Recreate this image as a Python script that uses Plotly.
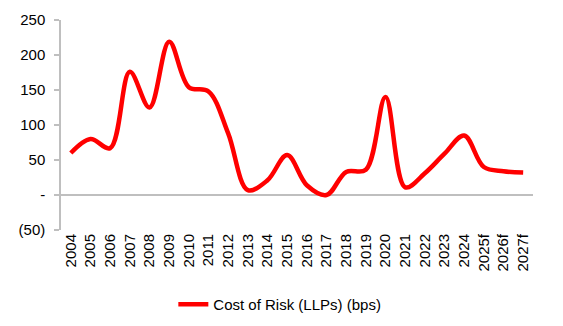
import plotly.graph_objects as go

years = ["2004", "2005", "2006", "2007", "2008", "2009", "2010", "2011", "2012",
         "2013", "2014", "2015", "2016", "2017", "2018", "2019", "2020", "2021",
         "2022", "2023", "2024", "2025f", "2026f", "2027f"]
cost_of_risk = [60, 80, 67, 176, 125, 219, 154, 148, 88, 7, 21, 57, 14, 0, 33, 36,
                140, 11, 31, 59, 85, 40, 34, 32]
y_ticks = [-50, 0, 50, 100, 150, 200, 250]
y_tick_labels = ["(50)", "-", "50", "100", "150", "200", "250"]

font = "Liberation Sans, Arial, sans-serif"

fig = go.Figure()
fig.add_trace(go.Scatter(
    x=years, y=cost_of_risk, mode="lines",
    name="Cost of Risk (LLPs) (bps)",
    line=dict(color="#ff0000", width=4.5, shape="spline", smoothing=1.0),
))

fig.update_layout(
    width=563, height=326,
    margin=dict(l=61, r=30, t=20, b=96, autoexpand=False),
    paper_bgcolor="white", plot_bgcolor="white",
    font=dict(family=font, size=15, color="black"),
    showlegend=True,
    legend=dict(orientation="h", x=0.238, xanchor="left", y=-0.355, yanchor="middle",
                font=dict(size=15), bgcolor="rgba(0,0,0,0)"),
    xaxis=dict(
        type="category", range=[-0.5, 23.5], showgrid=False, showline=False,
        ticks="", tickangle=-90, tickfont=dict(size=15), zeroline=False,
        automargin=False,
    ),
    yaxis=dict(
        range=[-50, 250], tickvals=y_ticks, ticktext=y_tick_labels,
        showgrid=False, showline=True, linecolor="#bfbfbf", linewidth=1.5,
        ticks="outside", ticklen=5, tickcolor="#bfbfbf", tickwidth=1.5,
        zeroline=True, zerolinecolor="#bfbfbf", zerolinewidth=2,
        tickfont=dict(size=15), automargin=False, ticklabelstandoff=6,
    ),
)

fig.write_html("out.html")
